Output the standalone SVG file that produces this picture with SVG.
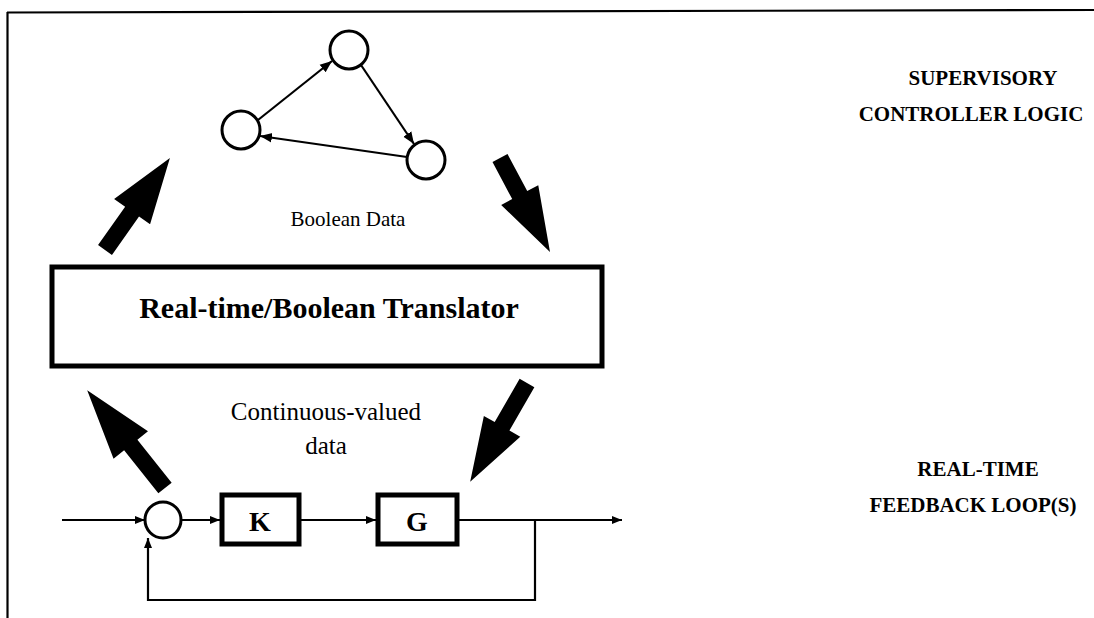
<svg xmlns="http://www.w3.org/2000/svg" width="1094" height="618" viewBox="0 0 1094 618">
  <style>
    .serif { font-family: "Liberation Serif", "Times New Roman", serif; fill: #000; }
    .bold { font-weight: bold; }
    .state { fill: #fff; stroke: #000; stroke-width: 3; }
    .thin { fill: none; stroke: #000; stroke-width: 2.2; }
    .block { fill: #fff; stroke: #000; stroke-width: 5; }
    .big { fill: #000; stroke: none; }
  </style>
  <defs>
    <marker id="ah" viewBox="0 0 10 10" refX="10" refY="5" markerWidth="10" markerHeight="10" markerUnits="userSpaceOnUse" orient="auto">
      <path d="M0,1 L10,5 L0,9 z" fill="#000"/>
    </marker>
    <marker id="ahs" viewBox="0 0 10 10" refX="10" refY="5" markerWidth="12" markerHeight="12" markerUnits="userSpaceOnUse" orient="auto">
      <path d="M0,1 L10,5 L0,9 z" fill="#000"/>
    </marker>
  </defs>

  <!-- page frame (top and left edges) -->
  <g id="frame">
    <line x1="7" y1="12.5" x2="1094" y2="10" stroke="#000" stroke-width="2.2"/>
    <line x1="7.5" y1="12" x2="7.5" y2="618" stroke="#000" stroke-width="2.2"/>
  </g>

  <!-- supervisory state machine -->
  <g id="state-top"><circle class="state" cx="349" cy="50" r="19"/></g>
  <g id="state-left"><circle class="state" cx="241" cy="130" r="19"/></g>
  <g id="state-right"><circle class="state" cx="426" cy="160" r="19"/></g>

  <g id="connectors">
    <!-- state transitions -->
    <line class="thin" x1="258" y1="120" x2="332" y2="61" marker-end="url(#ahs)"/>
    <line class="thin" x1="361" y1="65" x2="414" y2="144" marker-end="url(#ahs)"/>
    <line class="thin" x1="407" y1="157" x2="260" y2="136" marker-end="url(#ahs)"/>

    <!-- data flow block arrows -->
    <polygon class="big" transform="translate(105,250) rotate(-54.8)" points="0,-8.5 47,-8.5 47,-22 112.6,0 47,22 47,8.5 0,8.5"/>
    <polygon class="big" transform="translate(500,158) rotate(62)" points="0,-8.5 42,-8.5 42,-21 106.5,0 42,21 42,8.5 0,8.5"/>
    <polygon class="big" transform="translate(165,488) rotate(-128.5)" points="0,-8.5 55,-8.5 55,-22 125,0 55,22 55,8.5 0,8.5"/>
    <polygon class="big" transform="translate(527,383) rotate(119.9)" points="0,-8.5 50,-8.5 50,-21 114,0 50,21 50,8.5 0,8.5"/>

    <!-- feedback loop signals -->
    <line class="thin" x1="62" y1="520" x2="145" y2="520" marker-end="url(#ah)"/>
    <line class="thin" x1="181" y1="520" x2="220" y2="520" marker-end="url(#ah)"/>
    <line class="thin" x1="300" y1="520" x2="376" y2="520" marker-end="url(#ah)"/>
    <line class="thin" x1="458" y1="520" x2="622" y2="520" marker-end="url(#ah)"/>
    <polyline class="thin" points="535,520 535,600 148,600 148,538" marker-end="url(#ah)"/>
  </g>

  <text class="serif" x="348" y="226" font-size="21" text-anchor="middle">Boolean Data</text>

  <g id="translator">
    <rect class="block" x="52" y="267" width="550" height="99"/>
    <text class="serif bold" x="329" y="318" font-size="30" text-anchor="middle">Real-time/Boolean Translator</text>
  </g>

  <text class="serif" x="326" y="420" font-size="25" text-anchor="middle">Continuous-valued</text>
  <text class="serif" x="326" y="454" font-size="25" text-anchor="middle">data</text>

  <g id="summing-junction"><circle class="state" cx="163" cy="520" r="18"/></g>
  <g id="controller-K">
    <rect class="block" x="222" y="495" width="77" height="49"/>
    <text class="serif bold" x="260" y="531" font-size="28" text-anchor="middle">K</text>
  </g>
  <g id="plant-G">
    <rect class="block" x="378" y="495" width="79" height="49"/>
    <text class="serif bold" x="417" y="531" font-size="28" text-anchor="middle">G</text>
  </g>

  <g id="layer-labels">
    <text class="serif bold" x="983" y="85" font-size="21" text-anchor="middle">SUPERVISORY</text>
    <text class="serif bold" x="971" y="121" font-size="21" text-anchor="middle">CONTROLLER LOGIC</text>
    <text class="serif bold" x="978" y="476" font-size="21" text-anchor="middle">REAL-TIME</text>
    <text class="serif bold" x="973" y="512" font-size="21" text-anchor="middle">FEEDBACK LOOP(S)</text>
  </g>
</svg>
